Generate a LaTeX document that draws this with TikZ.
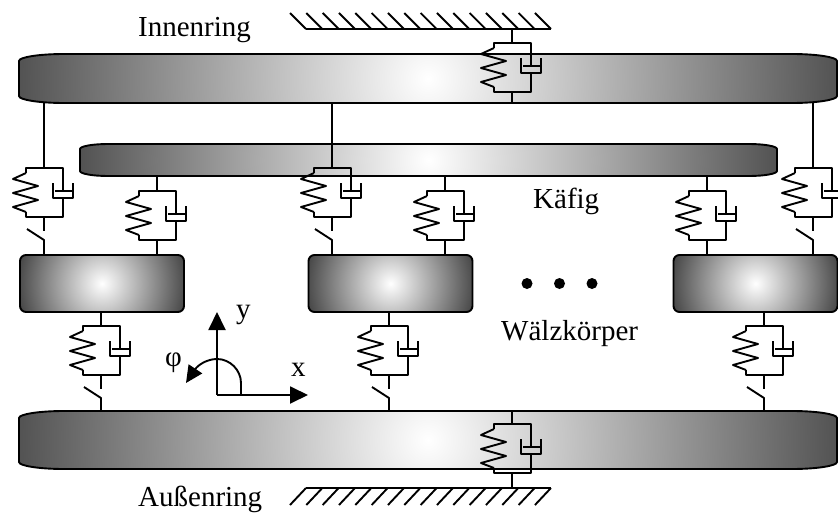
\documentclass[tikz,border=0pt]{standalone}
\usepackage{fontspec}
\setmainfont{Liberation Serif}
\usetikzlibrary{arrows.meta}

\tikzset{
	linie/.style={line width=1.9pt, line join=round},
	beschriftung/.style={anchor=base west, inner sep=0pt, font=\fontsize{29}{30}\selectfont},
	koerper/.style={linie, draw, rounded corners=6pt, inner sep=0pt, minimum width=164pt, minimum height=57pt,
		path picture={\shade[inner color=white, outer color=black!78] (path picture bounding box.center) circle (92);}},
	feder/.pic={
		\coordinate (-top) at (0,0);
		\coordinate (-bot) at (0,49);
		\draw[linie] (-18,5) -- (-18,0) -- (19,0) -- (19,23);
		\draw[linie] (11,23) -- (28,23);
		\draw[linie] (9,15) -- (9,30) -- (29,30) -- (29,15);
		\draw[linie] (19,30) -- (19,49) -- (-18,49) -- (-18,44);
		\draw[linie] (-18,5) -- (-31,11) -- (-6,18) -- (-31,25) -- (-6,32) -- (-31,39) -- (-18,44);
	}
}

% Ring mit gewoelbten Ecken
\newcommand{\ringbody}[8]{
	\draw[linie, path picture={\shade[inner color=white, outer color=black!68] (path picture bounding box.center) circle (#8);}]
		({#2+#6},#3) -- ({#4-#6},#3) .. controls ({#4-#6*.45},#3) and (#4,{#3+#7*.45}) .. (#4,{#3+#7})
		-- (#4,{#5-#7}) .. controls (#4,{#5-#7*.45}) and ({#4-#6*.45},#5) .. ({#4-#6},#5)
		-- ({#2+#6},#5) .. controls ({#2+#6*.45},#5) and (#2,{#5-#7*.45}) .. (#2,{#5-#7})
		-- (#2,{#3+#7}) .. controls (#2,{#3+#7*.45}) and ({#2+#6*.45},#3) .. ({#2+#6},#3) -- cycle;
	\node[minimum width={(#4-#2)*1pt}, minimum height={(#5-#3)*1pt}, inner sep=0pt] (#1) at ({(#2+#4)/2},{(#3+#5)/2}) {};
}

\begin{document}
\begin{tikzpicture}[x=1pt, y=-1pt]
	\useasboundingbox (0,0) rectangle (838,514);

	% Koerper
	\ringbody{kaefig}{80}{144}{777}{176}{28}{5}{350}
	\ringbody{innenring}{19}{54}{837}{103}{45}{7}{412}
	\ringbody{aussenring}{19}{411}{837}{469}{45}{7}{412}
	\node[koerper] (wk1) at (102,283.5) {};
	\node[koerper] (wk2) at (390.5,283.5) {};
	\node[koerper] (wk3) at (755.5,283.5) {};

	% Einspannung
	\coordinate (gtop) at (512,29);
	\coordinate (gbot) at (512,488);
	\draw[linie] (306,29) -- (551,29);
	\draw[linie] (306,488) -- (551,488);
	\foreach \i in {0,...,15} {
		\draw[linie] ({306+\i*16.33},29) -- ++(-16,-16);
		\draw[linie] ({290+\i*16.33},505) -- ++(16,-17);
	}

	% Feder-Daempfer
	\foreach \n/\x/\y in {a/44/168, b/157/191, c/332/168, d/445/191, e/707/191, f/813/168, g/101/326, h/389/326, i/764/326, j/512/43, k/512/424} {
		\pic (\n) at (\x,\y) {feder};
	}

	% Anbindung oben
	\foreach \n/\o in {a/innenring, c/innenring, f/innenring, b/kaefig, d/kaefig, e/kaefig, g/wk1, h/wk2, i/wk3} {
		\draw[linie] (\n-top) -- (\n-top |- \o.south);
	}
	\foreach \n/\u in {b/wk1, d/wk2, e/wk3} {
		\draw[linie] (\n-bot) -- (\n-bot |- \u.north);
	}

	% Anbindung mit Spiel
	\foreach \n/\u in {a/wk1, c/wk2, f/wk3, g/aussenring, h/aussenring, i/aussenring} {
		\draw[linie] (\n-bot) -- ++(0,14);
		\draw[linie] ([shift={(-17,12)}]\n-bot) -- ++(17,11) -- (\n-bot |- \u.north);
	}

	% Mitte
	\draw[linie] (j-top) -- (j-top |- gtop);
	\draw[linie] (j-bot) -- (j-bot |- innenring.south);
	\draw[linie] (k-top) -- (k-top |- aussenring.north);
	\draw[linie] (k-bot) -- (k-bot |- gbot);

	\foreach \x in {527,559.5,592} {
		\fill (\x,283.5) circle (5.5);
	}

	% Koordinaten
	\coordinate (ursprung) at (217,395);
	\draw[linie, -{Stealth[length=18pt, width=17pt, inset=0pt]}] (ursprung) -- (217,312);
	\draw[linie, -{Stealth[length=18pt, width=17pt, inset=0pt]}] (ursprung) -- (308,395);
	\draw[linie, -{Stealth[length=17pt, width=16pt, inset=0pt]}] (241,395) -- (241,383) .. controls (241,370) and (230,359) .. (217,359) .. controls (207,359) and (198,365) .. (186,383);

	\node[beschriftung] (tinnen) at (138,36) {Innenring};
	\node[beschriftung] (taussen) at (138,506) {Außenring};
	\node[beschriftung] (tkaefig) at (533,208) {Käfig};
	\node[beschriftung] (twk) at (501,340) {Wälzkörper};
	\node[beschriftung] (ty) at (236,318) {y};
	\node[beschriftung] (tx) at (291,376) {x};
	\node[beschriftung] (tphi) at (165,366) {φ};
\end{tikzpicture}
\end{document}
